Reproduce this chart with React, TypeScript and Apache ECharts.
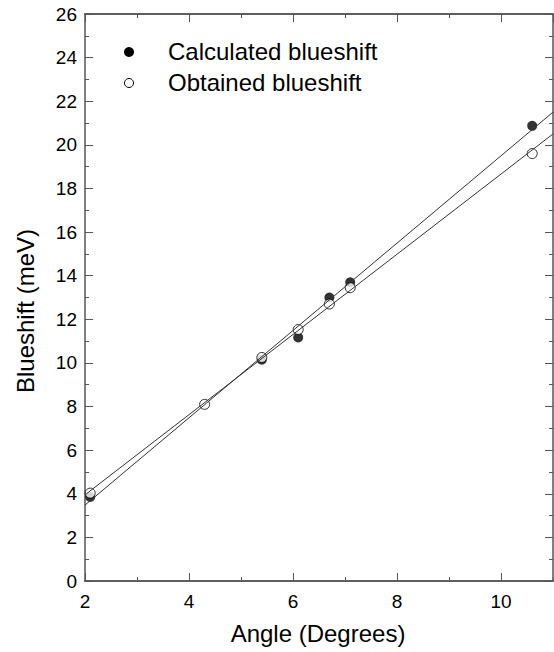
import React, { useEffect, useRef } from "react";
import * as echarts from "echarts";

const calcX = [2.1, 5.4, 6.1, 6.7, 7.1, 10.6];
const calcY = [3.85, 10.15, 11.17, 13.0, 13.7, 20.87];
const obtX = [2.1, 4.3, 5.4, 6.1, 6.7, 7.1, 10.6];
const obtY = [4.03, 8.1, 10.25, 11.53, 12.7, 13.45, 19.6];
const calcFitX = [2, 11];
const calcFitY = [3.48, 21.5];
const obtFitX = [2, 11];
const obtFitY = [3.95, 20.5];

const FONT = "'Liberation Sans', Arial, sans-serif";
const AX = "#555";

function zip(xs: number[], ys: number[]) {
  return xs.map((x, i) => [x, ys[i]]);
}

export default function App() {
  const ref = useRef<HTMLDivElement>(null);
  useEffect(() => {
    document.body.style.margin = "0";
    const chart = echarts.init(ref.current!, null, { renderer: "svg" });
    const xBase = {
      type: "value" as const,
      min: 2,
      max: 11,
      splitLine: { show: false },
      axisLine: { show: true, lineStyle: { color: AX, width: 1.5 } },
    };
    chart.setOption({
      animation: false,
      backgroundColor: "#fff",
      grid: { left: 85, right: 1, top: 14, bottom: 71, containLabel: false },
      xAxis: [
        {
          ...xBase,
          position: "bottom",
          interval: 2,
          axisTick: { show: true, inside: true, length: 8, lineStyle: { color: AX, width: 1 } },
          axisLabel: {
            show: true,
            showMaxLabel: false,
            margin: 11,
            fontSize: 19,
            color: "#000",
            fontFamily: FONT,
          },
        },
        {
          ...xBase,
          position: "bottom",
          interval: 1,
          axisTick: { show: true, inside: true, length: 4, lineStyle: { color: AX, width: 1 } },
          axisLabel: { show: false },
        },
        {
          ...xBase,
          position: "top",
          interval: 2,
          axisTick: { show: true, inside: true, length: 8, lineStyle: { color: AX, width: 1 } },
          axisLabel: { show: false },
        },
        {
          ...xBase,
          position: "top",
          interval: 1,
          axisTick: { show: true, inside: true, length: 4, lineStyle: { color: AX, width: 1 } },
          axisLabel: { show: false },
        },
      ],
      yAxis: [
        {
          type: "value",
          position: "left",
          min: 0,
          max: 26,
          interval: 2,
          splitLine: { show: false },
          axisLine: { show: true, lineStyle: { color: AX, width: 1.5 } },
          axisTick: { show: true, inside: true, length: 8, lineStyle: { color: AX, width: 1 } },
          minorTick: { show: true, splitNumber: 2, length: 4, lineStyle: { color: AX, width: 1 } },
          minorSplitLine: { show: false },
          axisLabel: { show: true, margin: 8, fontSize: 19, color: "#000", fontFamily: FONT },
        },
        {
          type: "value",
          position: "right",
          min: 0,
          max: 26,
          interval: 2,
          splitLine: { show: false },
          axisLine: { show: true, lineStyle: { color: AX, width: 1.5 } },
          axisTick: { show: true, inside: true, length: 8, lineStyle: { color: AX, width: 1 } },
          minorTick: { show: true, splitNumber: 2, length: 4, lineStyle: { color: AX, width: 1 } },
          minorSplitLine: { show: false },
          axisLabel: { show: false },
        },
      ],
      series: [
        {
          name: "Calculated blueshift",
          type: "scatter",
          xAxisIndex: 0,
          yAxisIndex: 0,
          data: zip(calcX, calcY),
          symbol: "circle",
          symbolSize: 10,
          itemStyle: { color: "#000" },
          z: 2,
        },
        {
          name: "Obtained blueshift",
          type: "scatter",
          xAxisIndex: 0,
          yAxisIndex: 0,
          data: zip(obtX, obtY),
          symbol: "circle",
          symbolSize: 10,
          itemStyle: { color: "#fff", borderColor: "#000", borderWidth: 1 },
          z: 3,
        },
        {
          name: "calcFit",
          type: "line",
          xAxisIndex: 0,
          yAxisIndex: 0,
          data: zip(calcFitX, calcFitY),
          symbol: "none",
          lineStyle: { color: "#333", width: 1 },
          z: 4,
        },
        {
          name: "obtFit",
          type: "line",
          xAxisIndex: 0,
          yAxisIndex: 0,
          data: zip(obtFitX, obtFitY),
          symbol: "none",
          lineStyle: { color: "#333", width: 1 },
          z: 4,
        },
      ],
      graphic: [
        {
          type: "circle",
          shape: { cx: 129, cy: 52, r: 5 },
          style: { fill: "#000" },
        },
        {
          type: "circle",
          shape: { cx: 129, cy: 83, r: 4.5 },
          style: { fill: "#fff", stroke: "#000", lineWidth: 1 },
        },
        {
          type: "text",
          x: 168,
          y: 51,
          style: {
            text: "Calculated blueshift",
            fontSize: 24,
            fontFamily: FONT,
            fill: "#000",
            textAlign: "left",
            textVerticalAlign: "middle",
          },
        },
        {
          type: "text",
          x: 168,
          y: 82,
          style: {
            text: "Obtained blueshift",
            fontSize: 24,
            fontFamily: FONT,
            fill: "#000",
            textAlign: "left",
            textVerticalAlign: "middle",
          },
        },
        {
          type: "text",
          x: 318,
          y: 633,
          style: {
            text: "Angle (Degrees)",
            fontSize: 24,
            fontFamily: FONT,
            fill: "#000",
            textAlign: "center",
            textVerticalAlign: "middle",
          },
        },
        {
          type: "text",
          x: 25,
          y: 311,
          rotation: Math.PI / 2,
          style: {
            text: "Blueshift (meV)",
            fontSize: 24,
            fontFamily: FONT,
            fill: "#000",
            textAlign: "center",
            textVerticalAlign: "middle",
          },
        },
      ],
    });
    return () => chart.dispose();
  }, []);
  return <div ref={ref} style={{ width: 554, height: 652 }} />;
}
